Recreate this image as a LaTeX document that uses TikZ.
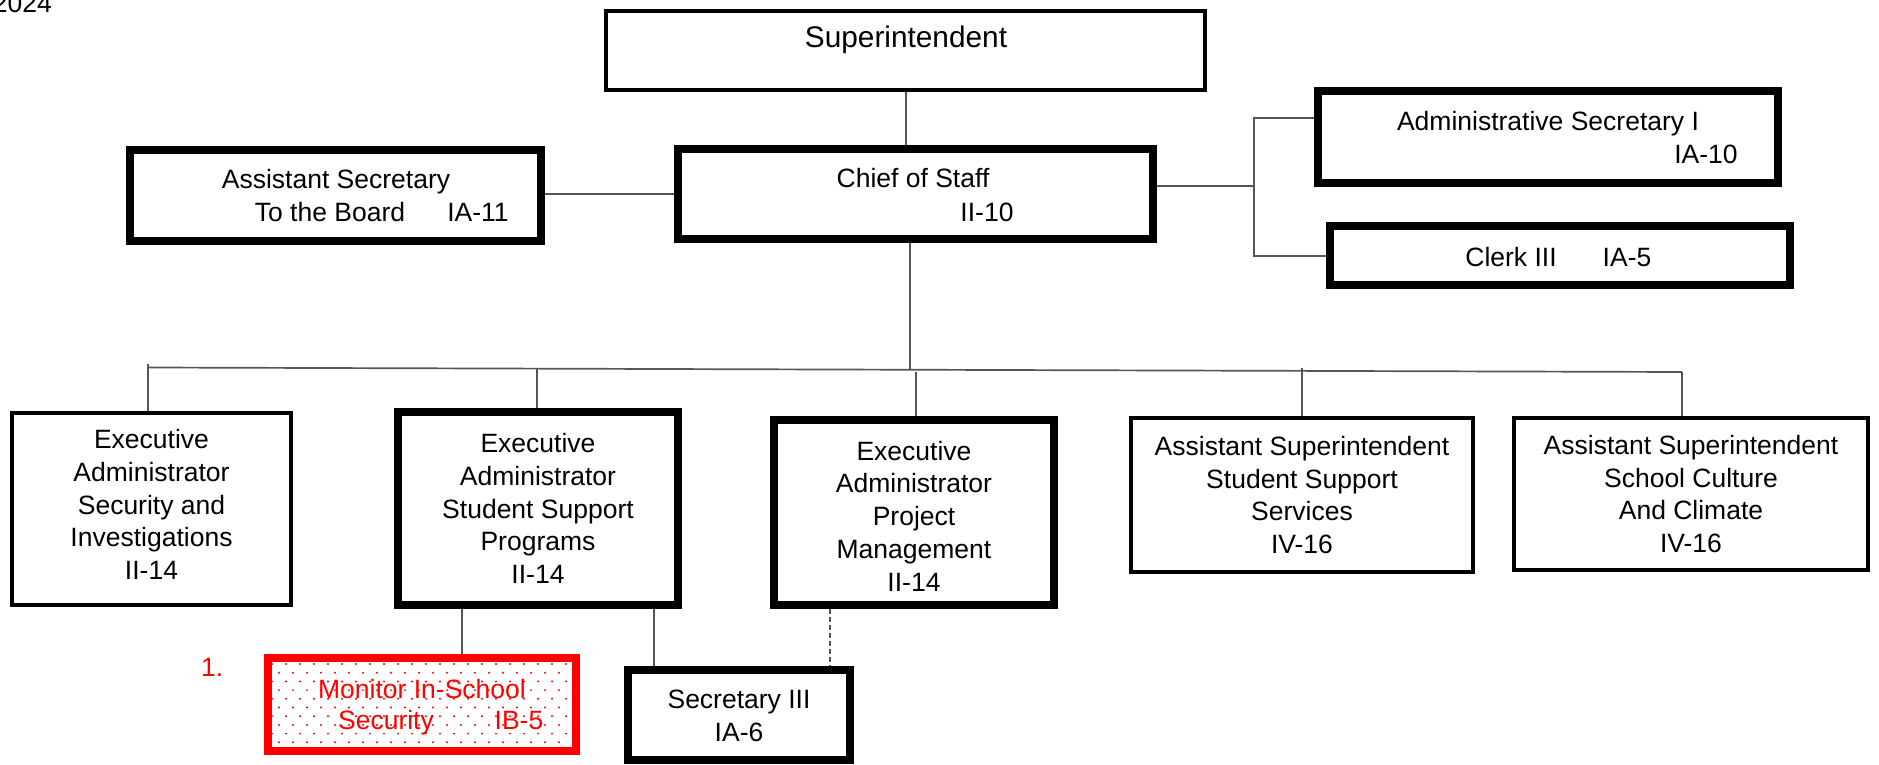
\documentclass[tikz,border=0pt]{standalone}
\usepackage{fontspec}
\setmainfont{Liberation Sans}
\definecolor{linegray}{RGB}{85,85,85}
\newcommand{\chartfont}{\fontsize{26.5}{32.7}\selectfont}
\newcommand{\headfont}{\fontsize{29.8}{34}\selectfont}
\begin{document}
\begin{tikzpicture}[x=1pt,y=-1pt,
  every node/.style={font=\chartfont, inner sep=0pt},
  box/.style={rectangle, draw=black, fill=white, align=center},
  thinbox/.style={box, line width=4pt},
  thickbox/.style={box, line width=8pt},
  redbox/.style={box, draw=red, line width=8pt},
  conn/.style={draw=linegray, line width=1.7pt},
  dashconn/.style={conn, dash pattern=on 5pt off 3pt},
  txt/.style={anchor=base},
  block/.style={align=center},
  redtxt/.style={anchor=base, text=red},
]
\fill[white] (0,0) rectangle (1879,765);
\useasboundingbox (0,0) rectangle (1879,765);

% year stamp in the page corner
\node[anchor=base east] (year) at (52,13) {2024};

% ---------- top levels ----------
\node[thinbox, minimum width=599pt, minimum height=79pt] (sup) at (905.5,50.5) {};
\node[txt, font=\headfont] (supT) at (906,48) {Superintendent};

\node[thickbox, minimum width=475pt, minimum height=90pt] (chief) at (915.5,194) {};
\node[txt] (chiefT) at (913,187) {Chief of Staff};
\node[txt] (chiefG) at (987,221) {II-10};

\node[thickbox, minimum width=411pt, minimum height=91pt] (asec) at (335.5,195.5) {};
\node[txt] (asecT) at (336,188) {Assistant Secretary};
\node[txt] (asecT2) at (330,221) {To the Board};
\node[txt] (asecG) at (478,221) {IA-11};

\node[thickbox, minimum width=460pt, minimum height=92pt] (admin) at (1548,137) {};
\node[txt] (adminT) at (1548,131) {Administrative Secretary I};
\node[txt] (adminG) at (1706,164) {IA-10};

\node[thickbox, minimum width=460pt, minimum height=59pt] (clerk) at (1560,255.5) {};
\node[txt] (clerkT) at (1511,266) {Clerk III};
\node[txt] (clerkG) at (1627,266) {IA-5};

% ---------- connectors of the top levels ----------
\draw[conn] (sup.south -| 906,0) -- (chief.north -| 906,0);
\draw[conn] (asec.east |- 0,194) -- (chief.west |- 0,194);
\coordinate (jr) at (1254,186);
\draw[conn] (chief.east |- jr) -- (jr);
\draw[conn] (admin.west |- 0,118) -| (jr) |- (clerk.west |- 0,256);

% bus to the second row
\coordinate (busL) at (149,367.5);
\coordinate (busR) at (1682,372);
\draw[conn] (chief.south -| 910,0) -- (910,369.5);
\draw[conn] (busL) -- (busR);

% ---------- second row ----------
\node[thinbox, minimum width=279pt, minimum height=192pt] (exsec) at (151.5,509) {};
\node[block] (exsecT) at (151.5,504.5)
  {Executive\\Administrator\\Security and\\Investigations\\II-14};
\node[thickbox, minimum width=280pt, minimum height=193pt] (exssp) at (538,508.5)
  {Executive\\Administrator\\Student Support\\Programs\\II-14};
\node[thickbox, minimum width=280pt, minimum height=185pt] (expm) at (914,512.5) {};
\node[block] (expmT) at (914,516)
  {Executive\\Administrator\\Project\\Management\\II-14};
\node[thinbox, minimum width=342pt, minimum height=154pt] (asss) at (1302,495)
  {Assistant Superintendent\\Student Support\\Services\\IV-16};
\node[thinbox, minimum width=354pt, minimum height=152pt] (ascc) at (1691,494)
  {Assistant Superintendent\\School Culture\\And Climate\\IV-16};

\draw[conn] (148,364) -- (exsec.north -| 148,0);
\draw[conn] (537,368) -- (exssp.north -| 537,0);
\draw[conn] (916,372) -- (expm.north -| 916,0);
\draw[conn] (1302,368) -- (asss.north -| 1302,0);
\draw[conn] (1682,372) -- (ascc.north -| 1682,0);

% ---------- third row ----------
\node[redbox, minimum width=308pt, minimum height=93pt] (mon) at (422,704.5) {};
\begin{scope}
  \clip (272,662) rectangle (572,747);
  \foreach \j in {0,...,10} {
    \foreach \i in {0,...,22} {
      \fill[red] ({272+\i*14+mod(\j,2)*7},{664+\j*8.7}) circle (1.1pt);
    }
  }
\end{scope}
\node[redtxt] (monT) at (422,698) {Monitor In-School};
\node[redtxt] (monT2) at (386,729) {Security};
\node[redtxt] (monG) at (519,729) {IB-5};
\node[redtxt, anchor=base west] (num) at (201,676) {1.};

\node[thickbox, minimum width=222pt, minimum height=90pt] (sec3) at (739,715) {};
\node[txt] (sec3T) at (739,708) {Secretary III};
\node[txt] (sec3G) at (739,741) {IA-6};

\draw[conn] (exssp.south -| 462,0) -- (mon.north -| 462,0);
\draw[conn] (exssp.south -| 654,0) -- (sec3.north -| 654,0);
\draw[dashconn] (expm.south -| 830,0) -- (sec3.north -| 830,0);
\end{tikzpicture}
\end{document}
